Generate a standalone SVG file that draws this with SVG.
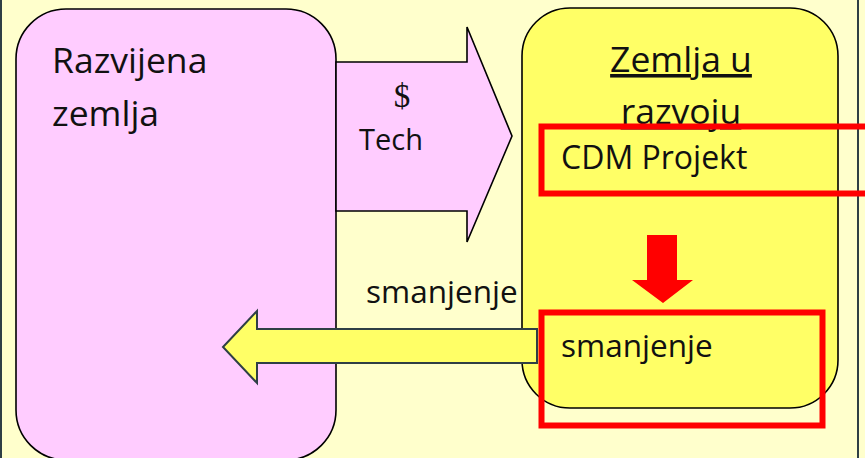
<svg xmlns="http://www.w3.org/2000/svg" width="865" height="458" viewBox="0 0 865 458">
  <style>
    .lbl { font-family: "Open Sans", "Liberation Sans", sans-serif; fill: #111111; }
    .box { stroke: #000000; stroke-width: 1.6; }
    .hl { fill: none; stroke: #FF0000; stroke-width: 6; }
  </style>

  <!-- slide background -->
  <rect x="0" y="0" width="865" height="458" fill="#FFFFCC"/>
  <line x1="1" y1="0" x2="1" y2="458" stroke="#2F3F45" stroke-width="2"/>
  <line x1="858" y1="0" x2="858" y2="458" stroke="#2F3F45" stroke-width="2"/>

  <!-- developed country -->
  <g id="developed">
    <rect class="box" x="16" y="9" width="320" height="451" rx="50" ry="50" fill="#FFCCFF"/>
    <text class="lbl" x="52" y="73" font-size="35.5">Razvijena</text>
    <text class="lbl" x="52" y="126" font-size="35.5">zemlja</text>
  </g>

  <!-- developing country -->
  <g id="developing">
    <rect class="box" x="522" y="8" width="316" height="400" rx="48" ry="48" fill="#FFFF66"/>
    <text class="lbl" x="681" y="72" font-size="35.5" text-anchor="middle" text-decoration="underline">Zemlja u</text>
    <text class="lbl" x="681" y="124" font-size="35.5" text-anchor="middle" text-decoration="underline">razvoju</text>
  </g>

  <g id="connectors">
    <!-- money and technology flow -->
    <g id="flow-tech">
      <polygon class="box" points="336,62 467,62 467,27 512,136 467,242 467,211 336,211" fill="#FFCCFF"/>
      <text x="402" y="107" font-family="'Liberation Serif', serif" font-size="33" fill="#111111" text-anchor="middle">$</text>
      <text class="lbl" x="359" y="150" font-size="29">Tech</text>
    </g>

    <!-- project leads to reduction -->
    <polygon id="flow-down" points="647,235 677,235 677,280 693,280 663,303 632,280 647,280" fill="#FF0000"/>

    <!-- reductions flow back -->
    <g id="flow-back">
      <polygon points="537,329 257,329 257,311 223,347 257,383 257,363 537,363" fill="#FFFF66" stroke="#2F3F45" stroke-width="2"/>
      <text class="lbl" x="366" y="303" font-size="31.5">smanjenje</text>
    </g>
  </g>

  <!-- CDM project -->
  <g id="cdm-project">
    <rect class="hl" x="541.5" y="126.5" width="340" height="67"/>
    <text class="lbl" x="561" y="169" font-size="32">CDM Projekt</text>
  </g>

  <!-- reduction -->
  <g id="reduction">
    <rect class="hl" x="541.5" y="312.5" width="281" height="113"/>
    <text class="lbl" x="561" y="357" font-size="31.5">smanjenje</text>
  </g>
</svg>
